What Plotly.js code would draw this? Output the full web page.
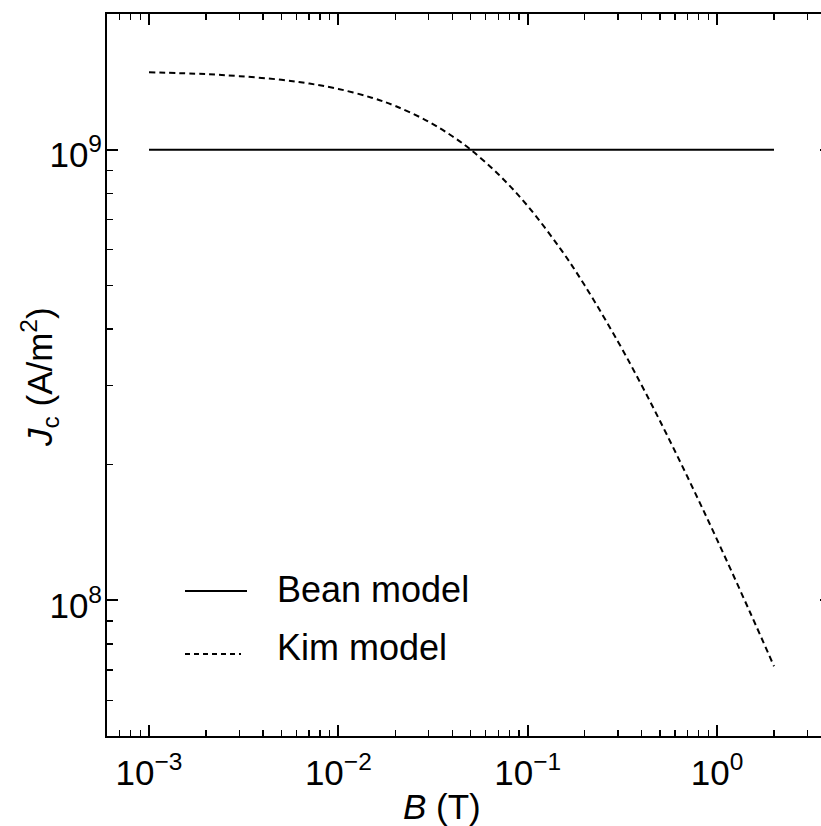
<!DOCTYPE html>
<html>
<head>
<meta charset="utf-8">
<script src="https://cdn.plot.ly/plotly-3.0.1.min.js"></script>
<style>
  html, body { margin: 0; padding: 0; overflow: hidden; background: #fff; }
  #chart { width: 840px; height: 826px; }
</style>
</head>
<body>
<div id="chart"></div>
<script>
// ---- data ----
const seriesNames = ["Bean model", "Kim model"];

const beanB  = [0.001, 2.0];
const beanJc = [1.0e9, 1.0e9];

const kimB  = [0.001, 0.002, 0.003, 0.005, 0.007, 0.01, 0.015, 0.02, 0.03, 0.04,
               0.05, 0.07, 0.1, 0.15, 0.2, 0.3, 0.4, 0.5, 0.7, 1.0, 1.5, 2.0];
const kimJc = [1.485e9, 1.471e9, 1.456e9, 1.429e9, 1.402e9, 1.364e9, 1.304e9, 1.25e9, 1.154e9, 1.071e9,
               1.0e9, 0.882e9, 0.75e9, 0.6e9, 0.5e9, 0.375e9, 0.3e9, 0.25e9, 0.1875e9, 0.1364e9, 0.09375e9, 0.0714e9];

const xTickVals = [0.001, 0.01, 0.1, 1];
const xTickText = ["10<sup>−3</sup>", "10<sup>−2</sup>", "10<sup>−1</sup>", "10<sup>0</sup>"];
const yTickVals = [1e8, 1e9];
const yTickText = ["10<sup>8</sup>", "10<sup>9</sup>"];

const xMinorVals = [0.0006, 0.0007, 0.0008, 0.0009,
                    0.002, 0.003, 0.004, 0.005, 0.006, 0.007, 0.008, 0.009,
                    0.02, 0.03, 0.04, 0.05, 0.06, 0.07, 0.08, 0.09,
                    0.2, 0.3, 0.4, 0.5, 0.6, 0.7, 0.8, 0.9, 2, 3, 4];
const yMinorVals = [6e7, 7e7, 8e7, 9e7, 2e8, 3e8, 4e8, 5e8, 6e8, 7e8, 8e8, 9e8, 2e9];

const xRange = [0.0006, 4];
const yRange = [5e7, 2e9];

const xTitle = "<i>B</i> (T)";
const yTitle = "<i>J</i><sub>c</sub> (A/m<sup>2</sup>)";

// ---- plot ----
const FONT = "'Liberation Sans', Arial, Helvetica, sans-serif";
const TXT = 35;
const LEG = 36;

const traces = [
  { x: beanB, y: beanJc, name: seriesNames[0], type: "scatter", mode: "lines",
    line: { color: "#000", width: 2 }, showlegend: false },
  { x: kimB, y: kimJc, name: seriesNames[1], type: "scatter", mode: "lines",
    line: { color: "#000", width: 2, dash: "6px,4px", shape: "spline" }, showlegend: false }
];

const W = 840, H = 826, L = 107, T = 14, R = 9, B = 90;
const pw = W - L - R, ph = H - T - B;
const px2x = p => (p - L) / pw;
const px2y = p => (H - B - p) / ph;

const axisCommon = {
  type: "log",
  showgrid: false, zeroline: false,
  showline: true, linecolor: "#000", linewidth: 2,
  mirror: "ticks",
  ticks: "inside", ticklen: 11, tickwidth: 1.8, tickcolor: "#000",
  tickmode: "array",
  tickfont: { family: FONT, size: TXT, color: "#000" },
};

const layout = {
  width: W, height: H,
  margin: { l: L, r: R, t: T, b: B, pad: 0 },
  paper_bgcolor: "#fff", plot_bgcolor: "#fff",
  showlegend: false,
  font: { family: FONT, color: "#000" },
  xaxis: Object.assign({}, axisCommon, {
    range: [Math.log10(xRange[0]), Math.log10(xRange[1])],
    tickvals: xTickVals, ticktext: xTickText,
    ticklabelstandoff: 5,
    minor: { tickmode: "array", tickvals: xMinorVals, ticks: "inside", ticklen: 6, tickwidth: 1.5, tickcolor: "#000", showgrid: false },
  }),
  yaxis: Object.assign({}, axisCommon, {
    range: [Math.log10(yRange[0]), Math.log10(yRange[1])],
    tickvals: yTickVals, ticktext: yTickText,
    ticklabelstandoff: -4,
    ticklabelshift: 5,
    minor: { tickmode: "array", tickvals: yMinorVals, ticks: "inside", ticklen: 6, tickwidth: 1.5, tickcolor: "#000", showgrid: false },
  }),
  shapes: [
    { type: "line", xref: "paper", yref: "paper", x0: px2x(185), x1: px2x(247), y0: px2y(591), y1: px2y(591),
      line: { color: "#000", width: 2 } },
    { type: "line", xref: "paper", yref: "paper", x0: px2x(185), x1: px2x(241), y0: px2y(654), y1: px2y(654),
      line: { color: "#000", width: 2, dash: "5px,4px" } }
  ],
  annotations: [
    { text: seriesNames[0], xref: "paper", yref: "paper", x: px2x(275), y: px2y(589.5),
      xanchor: "left", yanchor: "middle", showarrow: false, font: { family: FONT, size: LEG, color: "#000" } },
    { text: seriesNames[1], xref: "paper", yref: "paper", x: px2x(275), y: px2y(647),
      xanchor: "left", yanchor: "middle", showarrow: false, font: { family: FONT, size: LEG, color: "#000" } },
    { text: xTitle, xref: "paper", yref: "paper", x: px2x(442), y: px2y(806),
      xanchor: "center", yanchor: "middle", showarrow: false, font: { family: FONT, size: TXT, color: "#000" } },
    { text: yTitle, xref: "paper", yref: "paper", x: px2x(39), y: px2y(377), textangle: -90,
      xanchor: "center", yanchor: "middle", showarrow: false, font: { family: FONT, size: TXT, color: "#000" } }
  ]
};

Plotly.newPlot("chart", traces, layout, { staticPlot: true, displayModeBar: false });
</script>
</body>
</html>
